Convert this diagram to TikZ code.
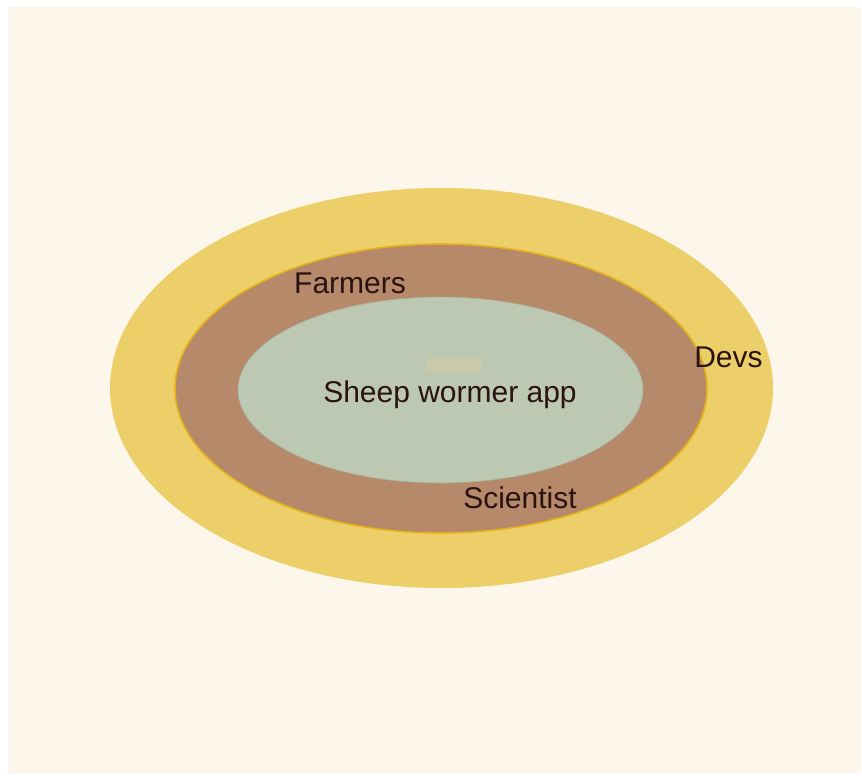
\documentclass[tikz,border=0pt]{standalone}
\usepackage{fontspec}
\setmainfont{Liberation Sans}
\definecolor{cream}{HTML}{FDF6EA}
\definecolor{outery}{HTML}{EDCF6A}
\definecolor{rimy}{HTML}{E5B21C}
\definecolor{midbrown}{HTML}{B5896A}
\definecolor{innersage}{HTML}{BCC8B1}
\definecolor{innerrim}{HTML}{A9AE9A}
\definecolor{blob}{HTML}{D9CDA0}
\definecolor{txt}{HTML}{2A1212}
\tikzset{
  lbl/.style={anchor=base, text=txt, inner sep=0pt, font=\fontsize{30}{31}\selectfont},
}
\begin{document}
\begin{tikzpicture}[x=1pt,y=-1pt]
\fill[white] (0,0) rectangle (862,776);
\useasboundingbox (0,0) rectangle (862,776);
\fill[cream] (8,7) rectangle (861,773);
\fill[outery] (441.5,388) ellipse [x radius=331.5, y radius=200];
\filldraw[fill=midbrown, draw=rimy, line width=1.6pt] (441,388.5) ellipse [x radius=266, y radius=144.5];
\filldraw[fill=innersage, draw=innerrim, line width=0.6pt] (440.5,390) ellipse [x radius=202.5, y radius=93];
\fill[blob, opacity=0.45, rounded corners=5pt] (426,358) rectangle (482,372);
\node[lbl] (farmers) at (350,293) {Farmers};
\node[lbl] (devs) at (728.5,367) {Devs};
\node[lbl] (scientist) at (520,508) {Scientist};
\node[lbl] (app) at (450,402) {Sheep wormer app};
\end{tikzpicture}
\end{document}
